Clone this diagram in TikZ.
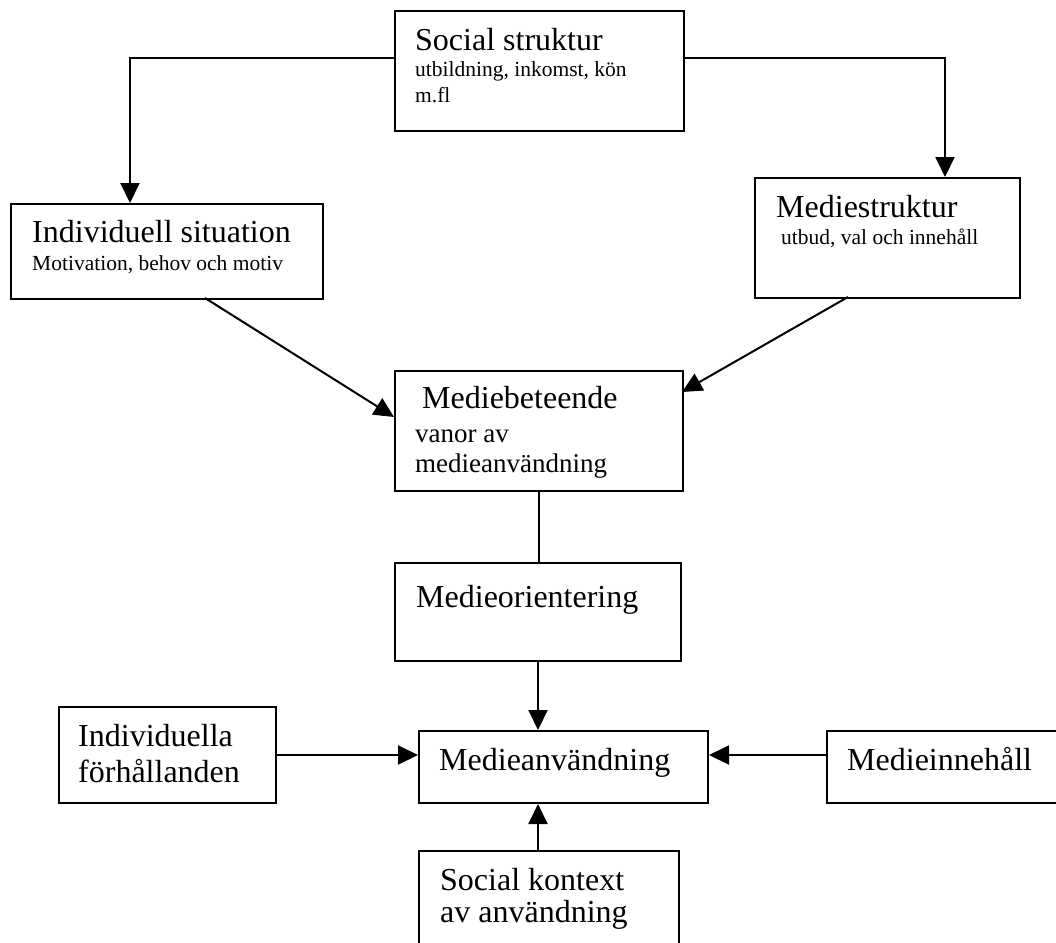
\documentclass[tikz,border=0pt]{standalone}
\usepackage{fontspec}
\setmainfont{Liberation Serif}
\usetikzlibrary{arrows.meta}
\tikzset{
  box/.style={draw=black, line width=2pt, fill=none, inner sep=0pt, anchor=north west},
  conn/.style={draw=black, line width=2pt},
  arr/.style={conn, -{Triangle[length=20pt,width=19pt]}},
  big/.style={anchor=base west, inner sep=0pt, font=\fontsize{32}{38}\selectfont},
  mid/.style={anchor=base west, inner sep=0pt, font=\fontsize{27}{32}\selectfont},
  small/.style={anchor=base west, inner sep=0pt, font=\fontsize{21.5}{26}\selectfont},
}
\begin{document}
\begin{tikzpicture}[x=1pt,y=-1pt]
\useasboundingbox (0,0) rectangle (1056,942);
\clip (0,0) rectangle (1056,942);
% boxes
\node[box, minimum width=289pt, minimum height=120pt] (soc) at (394,10) {};
\node[box, minimum width=312pt, minimum height=95pt] (isit) at (10,203) {};
\node[box, minimum width=265pt, minimum height=120pt] (mstr) at (754,177) {};
\node[box, minimum width=288pt, minimum height=120pt] (beh) at (394,370) {};
\node[box, minimum width=286pt, minimum height=98pt] (ori) at (394,562) {};
\node[box, minimum width=289pt, minimum height=72pt] (anv) at (418,730) {};
\node[box, minimum width=217pt, minimum height=96pt] (ifh) at (58,706) {};
\node[box, minimum width=250pt, minimum height=72pt] (inn) at (826,730) {};
\node[box, minimum width=260pt, minimum height=110pt] (kon) at (418,850) {};
% texts
\node[big] (t1) at (415,50) {Social struktur};
\node[small] (t2) at (415,76) {utbildning, inkomst, kön};
\node[small] (t3) at (415,102) {m.fl};
\node[big] (t4) at (32,242) {Individuell situation};
\node[small] (t5) at (32,270) {Motivation, behov och motiv};
\node[big] (t6) at (776,217) {Mediestruktur};
\node[small] (t7) at (781,244) {utbud, val och innehåll};
\node[big] (t8) at (422,408) {Mediebeteende};
\node[mid] (t9) at (415,442) {vanor av};
\node[mid] (t10) at (415,472) {medieanvändning};
\node[big] (t11) at (416,607) {Medieorientering};
\node[big] (t12) at (439,770) {Medieanvändning};
\node[big] (t13) at (78,746) {Individuella};
\node[big] (t14) at (78,782) {förhållanden};
\node[big] (t15) at (847,770) {Medieinnehåll};
\node[big] (t16) at (440,890) {Social kontext};
\node[big] (t17) at (440,922) {av användning};
% connectors
\coordinate (tl) at (130,58);
\coordinate (tr) at (945,58);
\draw[arr] (soc.west |- tl) -- (tl) -- (tl |- isit.north);
\draw[arr] (soc.east |- tr) -- (tr) -- (tr |- mstr.north);
\coordinate (d1) at (205,298);
\coordinate (d1e) at (394,417);
\draw[arr] (d1) -- (d1e);
\coordinate (d2) at (848,297);
\coordinate (d2e) at (682,392);
\draw[arr] (d2) -- (d2e);
\draw[conn] (beh.south) -- (beh.south |- ori.north);
\draw[arr] (ori.south) -- (ori.south |- anv.north);
\draw[arr] (ifh.east) -- (ifh.east -| anv.west);
\draw[arr] (inn.west |- ifh.east) -- (anv.east |- ifh.east);
\draw[arr] (kon.north -| ori.south) -- (anv.south -| ori.south);
\end{tikzpicture}
\end{document}
